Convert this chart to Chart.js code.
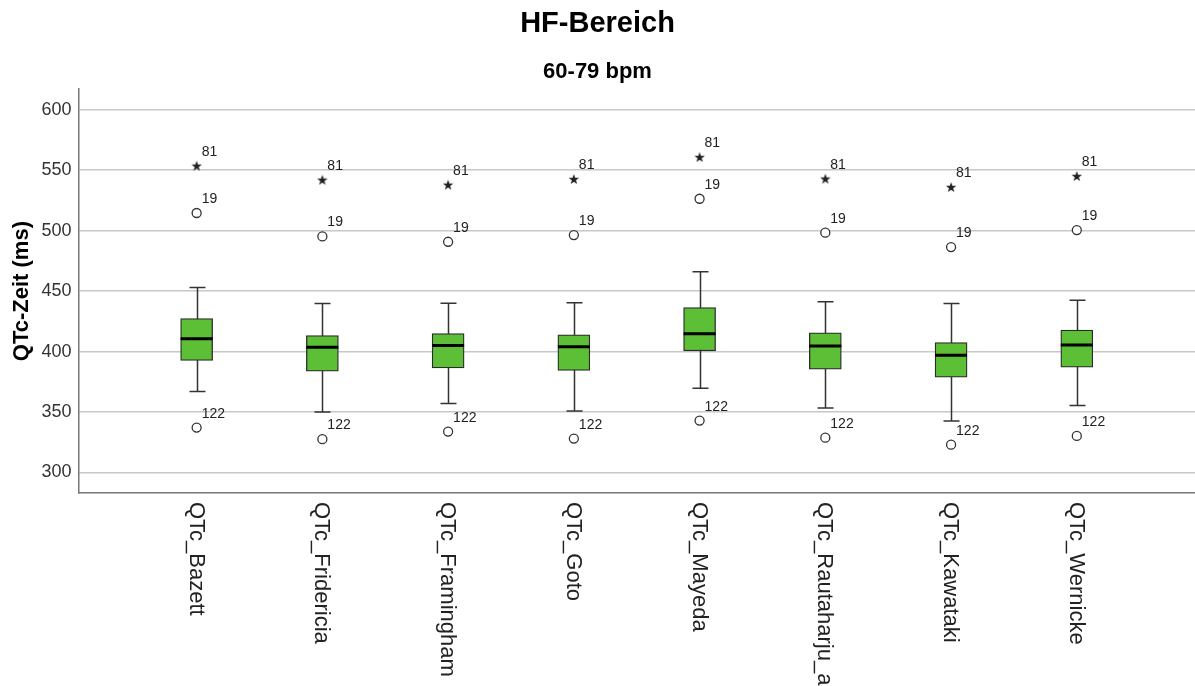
<!DOCTYPE html>
<html>
<head>
<meta charset="utf-8">
<title>HF-Bereich</title>
<script src="https://cdn.jsdelivr.net/npm/chart.js@4"></script>
<style>
  html, body { margin: 0; padding: 0; background: #fff; }
  #wrap { width: 1195px; height: 686px; }
</style>
</head>
<body>
<div id="wrap"><canvas id="qtc-chart" width="1195" height="686"></canvas></div>
<script>
// Daten
const categories = ["QTc_Bazett", "QTc_Fridericia", "QTc_Framingham", "QTc_Goto",
                    "QTc_Mayeda", "QTc_Rautaharju_a", "QTc_Kawataki", "QTc_Wernicke"];
const whiskerLow  = [366.9, 350.1, 357.0, 350.9, 369.7, 353.4, 342.6, 355.3];
const q1          = [392.6, 383.8, 386.5, 384.3, 400.6, 385.4, 378.8, 387.1];
const median      = [410.5, 403.6, 405.0, 403.9, 414.7, 404.5, 397.0, 405.5];
const q3          = [427.3, 413.2, 414.9, 413.8, 436.4, 415.5, 407.5, 417.7];
const whiskerHigh = [453.0, 439.7, 440.0, 440.3, 466.0, 441.1, 439.7, 442.5];
const case19      = [514.6, 495.2, 490.8, 496.3, 526.4, 498.3, 486.4, 500.5];
const case122     = [337.1, 327.5, 333.8, 328.0, 342.9, 328.8, 323.0, 330.2];
const case81      = [553.7, 542.1, 538.0, 542.7, 560.9, 543.0, 536.1, 545.2];
const yTicks      = [300, 350, 400, 450, 500, 550, 600];

Chart.defaults.font.family = "'Liberation Sans', Arial, sans-serif";

// kleiner Stern fuer Extremwerte
function makeStar() {
    const c = document.createElement("canvas");
    c.width = 12; c.height = 12;
    const g = c.getContext("2d");
    g.fillStyle = "#222";
    g.beginPath();
    for (let k = 0; k < 10; k++) {
        const r = k % 2 === 0 ? 5.5 : 2.2;
        const a = -Math.PI / 2 + k * Math.PI / 5;
        g.lineTo(6 + r * Math.cos(a), 6.5 + r * Math.sin(a));
    }
    g.closePath();
    g.fill();
    return c;
}

const pts = arr => arr.map((v, i) => ({ x: i, y: v }));

// Whisker + Median
const boxPlugin = {
    id: "boxWhiskers",
    beforeDatasetsDraw(chart) {
        const { ctx, scales: { x, y } } = chart;
        ctx.save();
        ctx.strokeStyle = "#333";
        ctx.lineWidth = 1.5;
        categories.forEach((c, i) => {
            const px = Math.round(x.getPixelForValue(i)) + 0.5;
            const top = y.getPixelForValue(whiskerHigh[i]);
            const bot = y.getPixelForValue(whiskerLow[i]);
            ctx.beginPath();
            ctx.moveTo(px, top); ctx.lineTo(px, bot);
            ctx.moveTo(px - 8, top); ctx.lineTo(px + 8, top);
            ctx.moveTo(px - 8, bot); ctx.lineTo(px + 8, bot);
            ctx.stroke();
        });
        ctx.restore();
    },
    afterDatasetsDraw(chart) {
        const { ctx, scales: { x, y } } = chart;
        ctx.save();
        ctx.strokeStyle = "#000";
        ctx.lineWidth = 3;
        categories.forEach((c, i) => {
            const px = x.getPixelForValue(i);
            const py = y.getPixelForValue(median[i]);
            ctx.beginPath();
            ctx.moveTo(px - 16, py); ctx.lineTo(px + 16, py);
            ctx.stroke();
        });

        // Fallnummern an den Ausreissern
        ctx.fillStyle = "#222";
        ctx.font = "14px 'Liberation Sans', Arial, sans-serif";
        ctx.textBaseline = "alphabetic";
        ctx.textAlign = "left";
        chart.data.datasets.forEach((ds, di) => {
            if (!ds.caseId) return;
            chart.getDatasetMeta(di).data.forEach(pt => {
                ctx.fillText(ds.caseId, pt.x + 5, pt.y - 10);
            });
        });
        ctx.restore();
    },
    afterDraw(chart) {
        // Kategorien senkrecht, von oben nach unten lesend
        const { ctx, scales: { x }, chartArea } = chart;
        ctx.save();
        ctx.fillStyle = "#222";
        ctx.font = "22px 'Liberation Sans', Arial, sans-serif";
        ctx.textAlign = "left";
        ctx.textBaseline = "middle";
        categories.forEach((c, i) => {
            ctx.save();
            ctx.translate(x.getPixelForValue(i) - 1, chartArea.bottom + 9);
            ctx.rotate(Math.PI / 2);
            ctx.fillText(c, 0, 0);
            ctx.restore();
        });
        ctx.restore();
    }
};

const ctx = document.getElementById("qtc-chart").getContext("2d");

new Chart(ctx, {
    type: "bar",
    data: {
        datasets: [
            {
                type: "scatter",
                caseId: "81",
                data: pts(case81),
                pointStyle: makeStar(),
                pointRadius: 6
            },
            {
                type: "scatter",
                caseId: "19",
                data: pts(case19),
                pointStyle: "circle",
                pointRadius: 4.5,
                backgroundColor: "#fff",
                borderColor: "#333",
                borderWidth: 1.3
            },
            {
                type: "scatter",
                caseId: "122",
                data: pts(case122),
                pointStyle: "circle",
                pointRadius: 4.5,
                backgroundColor: "#fff",
                borderColor: "#333",
                borderWidth: 1.3
            },
            {
                type: "bar",
                data: categories.map((c, i) => ({ x: i, y: [q1[i], q3[i]] })),
                backgroundColor: "#5cbf36",
                borderColor: "#2b2b2b",
                borderWidth: 1.3,
                borderSkipped: false,
                barThickness: 32
            }
        ]
    },
    options: {
        responsive: false,
        animation: false,
        events: [],
        layout: { autoPadding: false, padding: { left: 0, right: 0, top: 0, bottom: 193 } },
        plugins: {
            legend: { display: false },
            tooltip: { enabled: false },
            title: {
                display: true,
                text: "HF-Bereich",
                color: "#000",
                font: { size: 29, weight: "bold" },
                padding: { top: 7, bottom: 5 }
            },
            subtitle: {
                display: true,
                text: "60-79 bpm",
                color: "#000",
                font: { size: 22, weight: "bold" },
                padding: { top: 12, bottom: 4 }
            }
        },
        scales: {
            x: {
                type: "linear",
                min: -0.94,
                max: 7.94,
                offset: false,
                ticks: { display: false },
                grid: { color: "rgba(0,0,0,0)", drawTicks: false },
                border: { display: true, color: "#777", width: 1.5 }
            },
            y: {
                min: 283,
                max: 617,
                afterBuildTicks: s => { s.ticks = yTicks.map(v => ({ value: v })); },
                ticks: { color: "#333", font: { size: 18 }, padding: 7 },
                grid: { color: "#c8c8c8", lineWidth: 1.5, drawTicks: false },
                border: { display: true, color: "#777", width: 1.5 },
                title: {
                    display: true,
                    text: "QTc-Zeit (ms)",
                    color: "#000",
                    font: { size: 22, weight: "bold" },
                    padding: { top: 9, bottom: -1 }
                }
            }
        }
    },
    plugins: [boxPlugin]
});
</script>
</body>
</html>
